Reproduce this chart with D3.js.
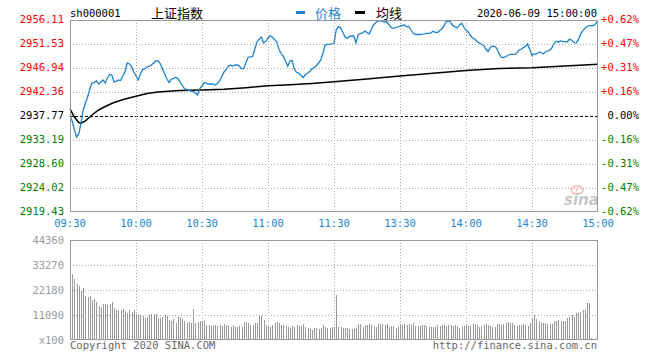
<!DOCTYPE html>
<html>
<head>
<meta charset="utf-8">
<script src="https://cdn.jsdelivr.net/npm/d3@7"></script>
<style>
body { margin: 0; background: #fff; }
svg { display: block; }
</style>
</head>
<body>
<svg width="660" height="360"></svg>
<script>
var code = "sh000001"
var title = "上证指数"
var stamp = "2020-06-09 15:00:00"
var seriesNames = ["价格", "均线"]
var prevClose = 2937.77

// one value per minute, 09:30-11:30 then 13:01-15:00
var prices = [
  2937.77, 2936.82, 2935.10, 2933.76, 2934.33, 2936.43, 2938.92, 2940.25, 2941.40, 2942.93,
  2944.07, 2944.17, 2944.46, 2943.88, 2944.27, 2944.65, 2944.07, 2945.03, 2945.70, 2945.60,
  2944.27, 2944.36, 2944.65, 2944.55, 2945.41, 2946.23, 2947.90, 2947.70, 2947.23, 2946.18,
  2945.41, 2944.65, 2945.79, 2946.65, 2946.75, 2947.13, 2947.23, 2947.51, 2947.90, 2948.28,
  2948.28, 2947.80, 2946.84, 2945.89, 2944.93, 2944.17, 2944.74, 2944.97, 2945.13, 2944.97,
  2944.32, 2943.60, 2943.02, 2942.87, 2942.70, 2942.51, 2942.41, 2942.16, 2941.78, 2943.02,
  2943.50, 2944.17, 2944.07, 2943.88, 2943.88, 2943.88, 2943.69, 2943.98, 2944.46, 2945.32,
  2946.18, 2946.65, 2947.32, 2947.46, 2947.32, 2947.51, 2947.51, 2947.32, 2946.75, 2946.94,
  2947.99, 2949.04, 2949.08, 2949.14, 2950.57, 2951.91, 2952.48, 2952.86, 2951.72, 2952.04,
  2952.67, 2953.09, 2952.81, 2952.37, 2951.91, 2950.47, 2949.71, 2949.10, 2948.28, 2947.27,
  2948.28, 2948.37, 2946.65, 2946.12, 2945.93, 2945.51, 2945.13, 2945.70, 2945.89, 2946.33,
  2946.79, 2947.00, 2947.42, 2947.90, 2948.47, 2949.81, 2951.33, 2951.47, 2951.47, 2951.53,
  2951.66, 2954.20, 2954.83, 2954.62, 2953.76, 2952.92, 2952.61, 2953.00, 2953.05, 2953.05,
  2951.72, 2953.34, 2953.53, 2953.63, 2954.01, 2953.72, 2953.44, 2954.39, 2955.16, 2955.63,
  2955.96, 2956.00, 2955.86, 2955.69, 2955.77, 2955.25, 2954.68, 2954.52, 2954.64, 2954.77,
  2954.96, 2955.06, 2955.16, 2954.83, 2954.87, 2954.20, 2953.57, 2953.34, 2953.34, 2953.34,
  2953.40, 2953.44, 2953.57, 2953.57, 2953.63, 2953.97, 2953.74, 2953.72, 2954.10, 2954.39,
  2955.02, 2955.82, 2955.92, 2955.69, 2955.02, 2954.83, 2954.58, 2955.16, 2955.48, 2954.77,
  2954.10, 2953.87, 2953.15, 2952.67, 2952.48, 2951.95, 2951.75, 2951.49, 2951.24, 2950.57,
  2950.09, 2950.86, 2951.09, 2951.07, 2950.67, 2949.71, 2949.00, 2948.91, 2949.10, 2949.33,
  2949.56, 2949.56, 2949.56, 2949.71, 2950.38, 2950.47, 2950.84, 2951.07, 2951.53, 2950.47,
  2949.33, 2949.65, 2949.58, 2949.94, 2949.94, 2949.61, 2949.96, 2950.19, 2950.32, 2950.76,
  2951.62, 2952.06, 2951.87, 2952.10, 2951.98, 2951.98, 2951.91, 2952.42, 2952.29, 2951.81,
  2951.66, 2952.25, 2953.38, 2954.05, 2954.49, 2954.87, 2955.02, 2955.02, 2955.02, 2955.44,
  2956.11
]

var avgTimes = ["09:30", "09:32", "09:34", "09:35", "09:37", "09:40", "09:43", "09:46", "09:50", "09:55",
  "10:00", "10:05", "10:10", "10:20", "10:30", "10:40", "10:50", "11:00", "11:10", "11:20",
  "11:30", "13:15", "13:30", "13:45", "14:00", "14:15", "14:30", "14:45", "15:00"]
var avgValues = [2939.11, 2937.58, 2936.53, 2936.38, 2936.82, 2937.96, 2938.92, 2939.58, 2940.35, 2941.02,
  2941.53, 2942.07, 2942.36, 2942.64, 2942.74, 2942.87, 2943.18, 2943.54, 2943.73, 2943.98,
  2944.30, 2944.84, 2945.41, 2945.93, 2946.46, 2946.84, 2947.00, 2947.32, 2947.65]

// volume per minute, in units of 100
var volumes = [
  44360, 29280, 27060, 24840, 24100, 21870, 22930, 19650, 18940, 19520,
  17740, 18050, 16990, 15080, 14510, 15970, 15970, 15530, 15970, 16720,
  14060, 13310, 13010, 13310, 13610, 13010, 12110, 13310, 12560, 13310,
  11530, 11090, 11090, 10650, 9610, 10350, 11090, 11530, 11530, 11380,
  9610, 9610, 10350, 11090, 10800, 8870, 8580, 9170, 7690, 10060,
  10060, 9170, 8580, 7390, 8130, 7690, 13610, 7690, 8130, 8580,
  8580, 8430, 6650, 6650, 6210, 6650, 6650, 6210, 6650, 6210,
  7100, 6650, 6210, 5910, 6650, 5910, 5910, 6210, 5610, 8130,
  8130, 7690, 6650, 6650, 7390, 7690, 10650, 10650, 8870, 6650,
  6210, 5910, 6650, 7690, 8130, 7390, 6650, 6650, 6210, 5910,
  5170, 6210, 5910, 6650, 6210, 6210, 7100, 5910, 5170, 4730,
  4430, 5170, 5170, 4730, 5170, 6650, 5910, 5170, 5170, 5910,
  5500, 19960, 5620, 5920, 5180, 5180, 5180, 4730, 4730, 4730,
  5180, 7100, 7100, 5920, 6650, 6650, 7100, 6650, 6210, 5920,
  6950, 7100, 7100, 6650, 7100, 5920, 6210, 6210, 5470, 5920,
  6650, 6650, 7100, 6650, 7100, 6650, 7390, 6210, 6210, 6210,
  6650, 6650, 6210, 5920, 5620, 5920, 5920, 6650, 6210, 6650,
  6650, 6210, 6650, 6650, 6210, 6650, 6210, 5180, 5620, 6210,
  6650, 6210, 6210, 7100, 7100, 6650, 5920, 6210, 6650, 7100,
  6650, 6210, 5920, 5920, 7100, 7100, 6650, 7100, 7390, 8130,
  7690, 7690, 6650, 6210, 6650, 6650, 7100, 6650, 6210, 7390,
  9610, 11090, 9170, 8580, 7390, 7690, 7390, 7100, 7100, 7100,
  8430, 8580, 8870, 8430, 8430, 8430, 9610, 10060, 11090, 10350,
  11830, 12130, 12570, 13310, 13310, 16270, 16560, 740, 0, 0,
  0
]

var priceTicks = [2956.11, 2951.53, 2946.94, 2942.36, 2937.77, 2933.19, 2928.60, 2924.02, 2919.43]
var volTicks = [44360, 33270, 22180, 11090]
var volUnit = "x100"
var timeLabels = ["09:30", "10:00", "10:30", "11:00", "11:30", "13:30", "14:00", "14:30", "15:00"]
var copyright = "Copyright 2020 SINA.COM"
var site = "http://finance.sina.com.cn"

var mono = "'DejaVu Sans Mono', 'Liberation Mono', monospace"
var cjk = "'Noto Sans CJK SC', sans-serif"

// minute index on the trading day, lunch break removed
var idx = function (t) {
  var v = +t.slice(0, 2) * 60 + +t.slice(3)
  return v >= 780 ? v - 780 + 120 : v - 570
}
var px = function (v) { return Math.round(v) + 0.5 }

var svg = d3.select("svg")
var x = d3.scaleLinear().domain([0, 240]).range([70, 598])
var y = d3.scaleLinear().domain([priceTicks[priceTicks.length - 1], priceTicks[0]]).range([212, 20])
var yv = d3.scaleLinear().domain([0, volTicks[0]]).range([340, 240])

var colorOf = function (v) {
  if (Math.abs(v - prevClose) < 0.005) return "#000"
  return v > prevClose ? "#f00" : "#008000"
}

// header
svg.append("text").attr("x", 70).attr("y", 17).attr("font-family", mono).attr("font-size", 10.5)
  .attr("fill", "#000").text(code)
svg.append("text").attr("x", 151).attr("y", 18).attr("font-family", cjk).attr("font-size", 13)
  .attr("fill", "#000").text(title)
svg.append("rect").attr("x", 296).attr("y", 11).attr("width", 9).attr("height", 3).attr("fill", "#1e82d2")
svg.append("text").attr("x", 315).attr("y", 18).attr("font-family", cjk).attr("font-size", 13)
  .attr("fill", "#1e82d2").text(seriesNames[0])
svg.append("rect").attr("x", 355).attr("y", 11).attr("width", 10).attr("height", 3).attr("fill", "#000")
svg.append("text").attr("x", 376).attr("y", 18).attr("font-family", cjk).attr("font-size", 13)
  .attr("fill", "#000").text(seriesNames[1])
svg.append("text").attr("x", 597).attr("y", 17).attr("text-anchor", "end").attr("font-family", mono)
  .attr("font-size", 10.5).attr("fill", "#000").text(stamp)

var grid = svg.append("g").attr("shape-rendering", "crispEdges")

// price grid
grid.selectAll(".hp").data(priceTicks.slice(1, -1)).enter().append("line")
  .attr("x1", 70).attr("x2", 598)
  .attr("y1", function (d) { return px(y(d)) }).attr("y2", function (d) { return px(y(d)) })
  .attr("stroke", function (d) { return d === prevClose ? "#000" : "#aaa" })
  .attr("stroke-dasharray", function (d) { return d === prevClose ? "3,2" : "1,2" })

var vgrid = timeLabels.slice(1, -1)
grid.selectAll(".vp").data(vgrid).enter().append("line")
  .attr("x1", function (d) { return px(x(idx(d))) }).attr("x2", function (d) { return px(x(idx(d))) })
  .attr("y1", 20).attr("y2", 212).attr("stroke", "#aaa").attr("stroke-dasharray", "1,2")

// volume grid
grid.selectAll(".hv").data(volTicks.slice(1)).enter().append("line")
  .attr("x1", 70).attr("x2", 598)
  .attr("y1", function (d) { return px(yv(d)) }).attr("y2", function (d) { return px(yv(d)) })
  .attr("stroke", "#aaa").attr("stroke-dasharray", "1,2")
grid.selectAll(".vv").data(vgrid).enter().append("line")
  .attr("x1", function (d) { return px(x(idx(d))) }).attr("x2", function (d) { return px(x(idx(d))) })
  .attr("y1", 240).attr("y2", 340).attr("stroke", "#aaa").attr("stroke-dasharray", "1,2")

// volume bars
svg.append("g").attr("shape-rendering", "crispEdges").selectAll("rect").data(volumes).enter().append("rect")
  .attr("x", function (d, i) { return Math.round(x(i)) })
  .attr("y", function (d) { return yv(d) })
  .attr("width", 1)
  .attr("height", function (d) { return 340 - yv(d) })
  .attr("fill", "#999")

// watermark
var wm = svg.append("g").attr("opacity", 0.55)
wm.append("ellipse").attr("cx", 577).attr("cy", 190).attr("rx", 6).attr("ry", 4)
  .attr("fill", "none").attr("stroke", "#f29a9a").attr("stroke-width", 2)
wm.append("circle").attr("cx", 577).attr("cy", 190).attr("r", 1.5).attr("fill", "#f29a9a")
wm.append("text").attr("x", 564).attr("y", 205).attr("font-family", "'DejaVu Sans', sans-serif")
  .attr("font-style", "italic").attr("font-weight", "bold").attr("font-size", 15).attr("fill", "#999").text("sina")

// lines
var avgData = avgTimes.map(function (t, i) { return [idx(t), avgValues[i]] })
svg.append("path").datum(avgData)
  .attr("fill", "none").attr("stroke", "#000").attr("stroke-width", 1.5)
  .attr("d", d3.line().x(function (d) { return x(d[0]) }).y(function (d) { return y(d[1]) }))

svg.append("path").datum(prices)
  .attr("fill", "none").attr("stroke", "#1e82d2").attr("stroke-width", 1.3)
  .attr("d", d3.line().x(function (d, i) { return x(i) }).y(function (d) { return y(d) }))

// frames
var frames = svg.append("g").attr("shape-rendering", "crispEdges").attr("fill", "none").attr("stroke", "#999")
frames.append("rect").attr("x", 70.5).attr("y", 20.5).attr("width", 527).attr("height", 191)
frames.append("rect").attr("x", 70.5).attr("y", 240.5).attr("width", 527).attr("height", 99)

// price labels
svg.selectAll(".pl").data(priceTicks).enter().append("text")
  .attr("x", 64).attr("y", function (d) { return y(d) + 3 })
  .attr("text-anchor", "end").attr("font-family", mono).attr("font-size", 10.5)
  .attr("fill", colorOf).text(function (d) { return d.toFixed(2) })

svg.selectAll(".pr").data(priceTicks).enter().append("text")
  .attr("x", 639).attr("y", function (d) { return y(d) + 3 })
  .attr("text-anchor", "end").attr("font-family", mono).attr("font-size", 10.5)
  .attr("fill", colorOf).text(function (d) {
    var p = (d / prevClose - 1) * 100
    var s = p.toFixed(2)
    if (s === "-0.00") s = "0.00"
    return (p > 0.004 ? "+" : "") + s + "%"
  })

// time labels
svg.selectAll(".tl").data(timeLabels).enter().append("text")
  .attr("x", function (d) { return x(idx(d)) }).attr("y", 227)
  .attr("text-anchor", "middle").attr("font-family", mono).attr("font-size", 10.5)
  .attr("fill", "#1784d6").text(function (d) { return d })

// volume labels
svg.selectAll(".vl").data(volTicks).enter().append("text")
  .attr("x", 64).attr("y", function (d) { return yv(d) + 3.5 })
  .attr("text-anchor", "end").attr("font-family", mono).attr("font-size", 10.5)
  .attr("fill", "#999").text(function (d) { return d })
svg.append("text").attr("x", 64).attr("y", 343.5).attr("text-anchor", "end").attr("font-family", mono)
  .attr("font-size", 10.5).attr("fill", "#999").text(volUnit)

// footer
svg.append("text").attr("x", 70).attr("y", 349).attr("font-family", mono).attr("font-size", 10.5)
  .attr("fill", "#666").text(copyright)
svg.append("text").attr("x", 597).attr("y", 349).attr("text-anchor", "end").attr("font-family", mono)
  .attr("font-size", 10.5).attr("fill", "#666").text(site)
</script>
</body>
</html>
